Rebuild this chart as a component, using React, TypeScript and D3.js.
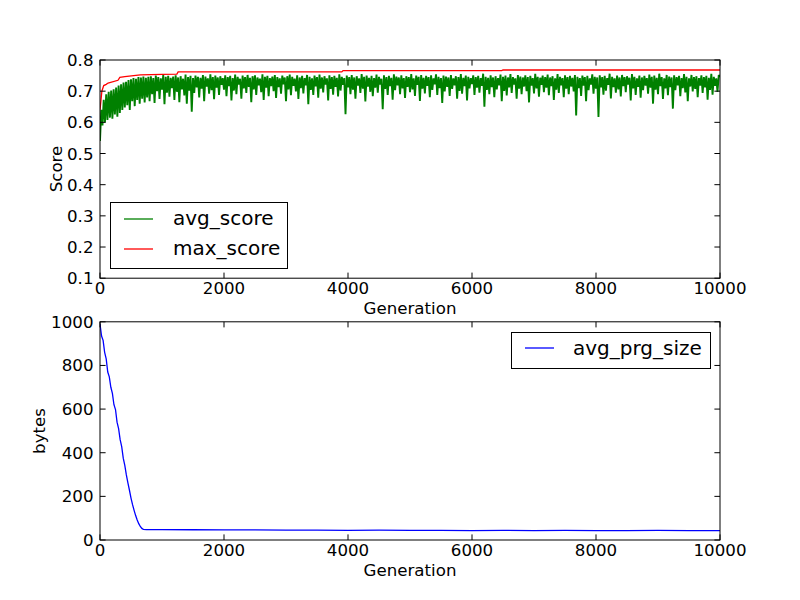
import * as d3 from "d3";

// generation step of the avg_score samples
const avgStep = 20;

// avg_score, thousandths, one value every 20 generations (0..10000)
const avgScoreMilli = [
  540, 640, 590, 672, 600, 690, 608, 698, 615, 702, 612, 706, 625, 712, 618, 718, 630, 722, 640, 728,
  648, 730, 655, 736, 640, 738, 668, 742, 652, 740, 672, 745, 660, 744, 676, 747, 664, 743, 680, 746,
  668, 748, 690, 742, 662, 750, 700, 745, 675, 741, 705, 752, 658, 746, 695, 749, 682, 743, 710, 747,
  672, 751, 698, 744, 665, 748, 706, 740, 686, 753, 660, 745, 702, 749, 634, 742, 694, 750, 712, 746,
  680, 743, 708, 752, 668, 747, 715, 741, 692, 754, 703, 745, 674, 750, 711, 744, 688, 748, 720, 742,
  705, 751, 684, 745, 716, 749, 670, 742, 702, 753, 690, 746, 721, 740, 676, 750, 709, 745, 694, 752,
  714, 743, 665, 748, 706, 751, 688, 744, 719, 740, 697, 754, 672, 746, 711, 749, 684, 742, 716, 747,
  700, 752, 678, 745, 713, 741, 692, 750, 722, 744, 668, 748, 706, 753, 687, 746, 717, 740, 699, 751,
  675, 744, 710, 749, 693, 742, 719, 752, 658, 746, 704, 741, 688, 750, 715, 745, 679, 753, 708, 744,
  696, 748, 721, 741, 670, 751, 707, 745, 689, 749, 714, 743, 683, 754, 702, 746, 720, 742, 626, 750,
  712, 745, 690, 752, 705, 744, 676, 748, 718, 741, 694, 755, 708, 746, 667, 750, 715, 743, 698, 749,
  684, 742, 711, 753, 695, 746, 721, 740, 642, 751, 707, 745, 688, 749, 716, 743, 673, 754, 703, 747,
  719, 744, 690, 751, 709, 742, 678, 748, 714, 745, 697, 755, 706, 741, 685, 750, 720, 746, 669, 752,
  708, 743, 693, 749, 717, 745, 681, 751, 704, 741, 722, 754, 688, 746, 710, 742, 662, 750, 699, 747,
  714, 744, 685, 752, 707, 741, 719, 748, 676, 745, 701, 755, 692, 743, 716, 750, 670, 746, 709, 742,
  723, 751, 688, 745, 711, 749, 695, 742, 717, 756, 650, 746, 704, 743, 690, 751, 713, 744, 681, 748,
  706, 742, 719, 753, 668, 746, 701, 750, 686, 744, 712, 755, 694, 745, 721, 741, 676, 752, 708, 747,
  690, 744, 715, 751, 700, 745, 664, 749, 718, 742, 693, 756, 709, 746, 682, 743, 720, 750, 697, 745,
  711, 753, 687, 744, 716, 748, 672, 741, 705, 755, 694, 746, 719, 742, 681, 751, 708, 745, 690, 749,
  715, 743, 699, 752, 622, 746, 710, 742, 685, 750, 718, 745, 668, 749, 703, 741, 721, 754, 692, 746,
  708, 744, 617, 751, 712, 745, 689, 749, 702, 742, 720, 756, 677, 746, 713, 741, 695, 750, 706, 744,
  683, 752, 716, 745, 697, 748, 721, 743, 670, 755, 709, 746, 688, 741, 714, 750, 679, 744, 703, 749,
  718, 742, 692, 753, 711, 746, 660, 750, 705, 743, 690, 756, 716, 745, 675, 741, 709, 752, 687, 747,
  713, 744, 644, 751, 703, 745, 719, 749, 684, 742, 710, 755, 696, 746, 668, 741, 715, 752, 699, 745,
  707, 748, 681, 742, 718, 751, 694, 745, 712, 749, 673, 743, 704, 756, 689, 746, 717, 741, 698, 752,
  745,
];

// max_score breakpoints
const maxGen = [0, 30, 60, 100, 130, 290, 320, 400, 650, 1000, 1240, 1260, 3900, 3920, 6480, 6500, 10000];
const maxScore = [0.64, 0.7, 0.718, 0.722, 0.726, 0.735, 0.744, 0.747, 0.752, 0.754, 0.755, 0.762, 0.762, 0.766, 0.766, 0.768, 0.768];

// avg_prg_size
const prgGen = [
  0, 25, 50, 75, 100, 125, 150, 175, 200, 225, 250, 275, 300, 325, 350, 375, 400, 425, 450, 475,
  500, 525, 550, 575, 600, 625, 650, 675, 700, 750, 1000, 1500, 2000, 2500, 3000, 3500, 4000, 4500,
  5000, 5500, 6000, 6500, 7000, 7500, 8000, 8500, 9000, 9500, 10000,
];
const prgSize = [
  990, 935, 915, 860, 830, 770, 748, 700, 672, 620, 598, 540, 510, 460, 428, 375, 342, 298, 262, 228,
  192, 162, 136, 112, 92, 75, 62, 53, 49, 48, 48, 47, 46, 46, 45, 45, 44, 45,
  44, 44, 43, 44, 43, 44, 43, 43, 44, 43, 43,
];

const genTicks = [0, 2000, 4000, 6000, 8000, 10000];
const scoreTicks = [0.1, 0.2, 0.3, 0.4, 0.5, 0.6, 0.7, 0.8];
const scoreTickLabels = ["0.1", "0.2", "0.3", "0.4", "0.5", "0.6", "0.7", "0.8"];
const bytesTicks = [0, 200, 400, 600, 800, 1000];

const font = "DejaVu Sans";
const fs = 16.67;
const legendFs = 20;
const tickLen = 5.6;

const L = 100;
const R = 720;
const top1 = 60;
const bot1 = 278.2;
const top2 = 321.8;
const bot2 = 540;

function Frame({ y0, y1, x, y, yTicks, yLabels }: any) {
  return (
    <g>
      {genTicks.map((t) => (
        <g key={"x" + t}>
          <line x1={x(t)} x2={x(t)} y1={y1} y2={y1 - tickLen} stroke="#000" />
          <line x1={x(t)} x2={x(t)} y1={y0} y2={y0 + tickLen} stroke="#000" />
          <text x={x(t)} y={y1 + 16} textAnchor="middle" fontSize={fs}>{t}</text>
        </g>
      ))}
      {yTicks.map((t: number, i: number) => (
        <g key={"y" + t}>
          <line x1={L} x2={L + tickLen} y1={y(t)} y2={y(t)} stroke="#000" />
          <line x1={R} x2={R - tickLen} y1={y(t)} y2={y(t)} stroke="#000" />
          <text x={93.5} y={y(t) + 6} textAnchor="end" fontSize={fs}>{yLabels[i]}</text>
        </g>
      ))}
      <rect x={L} y={y0} width={R - L} height={y1 - y0} fill="none" stroke="#000" strokeWidth={1} />
    </g>
  );
}

export default function App() {
  const x = d3.scaleLinear().domain([0, 10000]).range([L, R]);
  const yScore = d3.scaleLinear().domain([0.1, 0.8]).range([bot1, top1]);
  const yBytes = d3.scaleLinear().domain([0, 1000]).range([bot2, top2]);

  const avgLine = d3
    .line<number>()
    .x((_, i) => x(i * avgStep))
    .y((d) => yScore(d / 1000));
  const maxLine = d3
    .line<number>()
    .x((_, i) => x(maxGen[i]))
    .y((d) => yScore(d));
  const prgLine = d3
    .line<number>()
    .x((_, i) => x(prgGen[i]))
    .y((d) => yBytes(d));

  return (
    <svg
      width={800}
      height={600}
      style={{ position: "absolute", left: 0, top: 0, background: "#fff" }}
      fontFamily={font}
    >
      <defs>
        <clipPath id="c1">
          <rect x={L} y={top1} width={R - L} height={bot1 - top1} />
        </clipPath>
        <clipPath id="c2">
          <rect x={L} y={top2} width={R - L} height={bot2 - top2} />
        </clipPath>
      </defs>

      {/* score panel */}
      <g clipPath="url(#c1)">
        <path
          d={avgLine(avgScoreMilli) || ""}
          fill="none"
          stroke="#008000"
          strokeWidth={1.9}
          strokeLinejoin="bevel"
        />
        <path d={maxLine(maxScore) || ""} fill="none" stroke="#ff0000" strokeWidth={1.3} />
      </g>
      <Frame y0={top1} y1={bot1} x={x} y={yScore} yTicks={scoreTicks} yLabels={scoreTickLabels} />
      <text x={410} y={314} textAnchor="middle" fontSize={fs}>Generation</text>
      <text transform="translate(62,169) rotate(-90)" textAnchor="middle" fontSize={fs}>Score</text>

      <g>
        <rect x={110.5} y={202.5} width={177} height={66} fill="#fff" stroke="#000" />
        <line x1={124} x2={153} y1={219} y2={219} stroke="#008000" strokeWidth={1.3} />
        <text x={173} y={224.5} fontSize={legendFs}>avg_score</text>
        <line x1={124} x2={153} y1={249} y2={249} stroke="#ff0000" strokeWidth={1.3} />
        <text x={173} y={254.5} fontSize={legendFs}>max_score</text>
      </g>

      {/* program size panel */}
      <g clipPath="url(#c2)">
        <path d={prgLine(prgSize) || ""} fill="none" stroke="#0000ff" strokeWidth={1.3} />
      </g>
      <Frame y0={top2} y1={bot2} x={x} y={yBytes} yTicks={bytesTicks} yLabels={bytesTicks.map(String)} />
      <text x={410} y={576} textAnchor="middle" fontSize={fs}>Generation</text>
      <text transform="translate(45,431) rotate(-90)" textAnchor="middle" fontSize={fs}>bytes</text>

      <g>
        <rect x={511.5} y={332.5} width={199} height={36} fill="#fff" stroke="#000" />
        <line x1={525} x2={554} y1={348} y2={348} stroke="#0000ff" strokeWidth={1.3} />
        <text x={573} y={354.5} fontSize={legendFs}>avg_prg_size</text>
      </g>
    </svg>
  );
}
